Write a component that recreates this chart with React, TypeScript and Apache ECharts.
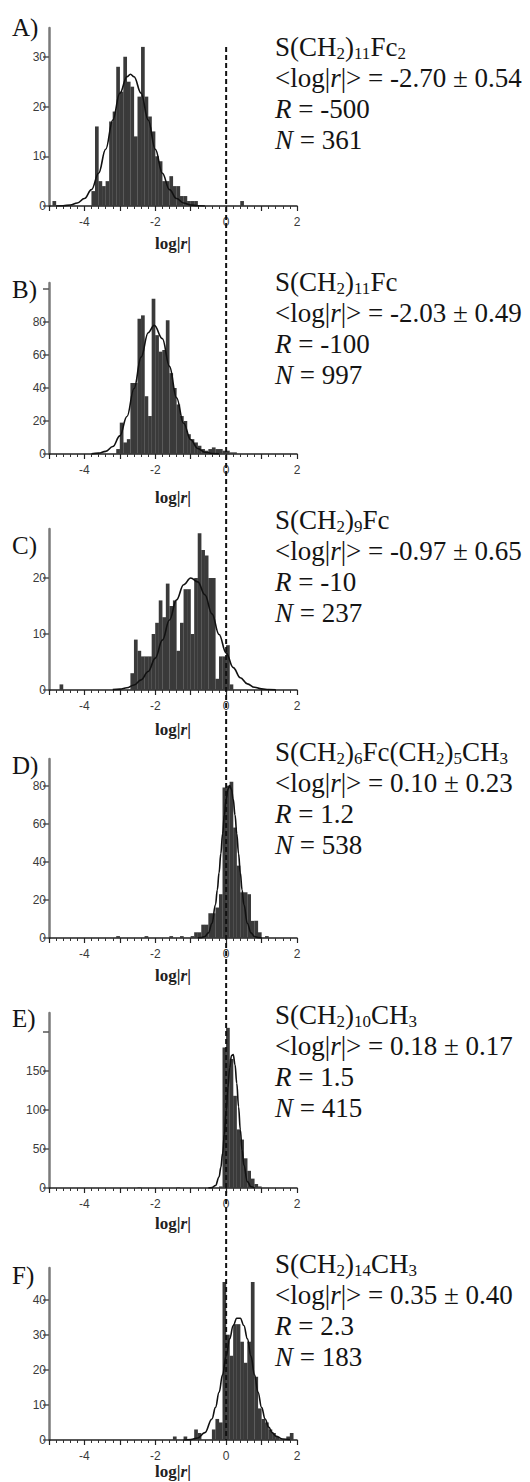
import React, { useEffect, useRef } from "react";
import * as echarts from "echarts";

// ---------------- data ----------------
const panelLetters = ["A)", "B)", "C)", "D)", "E)", "F)"];
const compounds = [
  "S(CH_2)_11Fc_2",
  "S(CH_2)_11Fc",
  "S(CH_2)_9Fc",
  "S(CH_2)_6Fc(CH_2)_5CH_3",
  "S(CH_2)_10CH_3",
  "S(CH_2)_14CH_3",
];
const meanLogR = ["-2.70", "-2.03", "-0.97", "0.10", "0.18", "0.35"];
const sdLogR = ["0.54", "0.49", "0.65", "0.23", "0.17", "0.40"];
const rValues = ["-500", "-100", "-10", "1.2", "1.5", "2.3"];
const nValues = ["361", "997", "237", "538", "415", "183"];

const xTickLabels = [-4, -2, 0, 2];

const yLabelsA = [0, 10, 20, 30];
const yLabelsB = [0, 20, 40, 60, 80];
const yLabelsC = [0, 10, 20];
const yLabelsD = [0, 20, 40, 60, 80];
const yLabelsE = [0, 50, 100, 150];
const yLabelsF = [0, 10, 20, 30, 40];

const yTicksA = [0, 10, 20, 30];
const yTicksB = [0, 20, 40, 60, 80, 100];
const yTicksC = [0, 10, 20];
const yTicksD = [0, 20, 40, 60, 80];
const yTicksE = [0, 50, 100, 150, 200];
const yTicksF = [0, 10, 20, 30, 40];

// histogram bins: [bin centre (log|r|), count]
const binsA = [
  [-4.85, 1], [-3.75, 3], [-3.65, 16], [-3.55, 5], [-3.45, 4], [-3.35, 5], [-3.25, 17],
  [-3.15, 19], [-3.05, 28], [-2.95, 23], [-2.85, 30], [-2.75, 25], [-2.65, 24], [-2.55, 14],
  [-2.45, 22], [-2.35, 32], [-2.25, 22], [-2.15, 18], [-2.05, 15], [-1.95, 10], [-1.85, 9],
  [-1.75, 5], [-1.65, 5], [-1.55, 6], [-1.45, 4], [-1.35, 4], [-1.25, 2], [-1.15, 2],
  [-1.05, 1], [-0.95, 1], [-0.85, 1], [0.45, 1],
];
const binsB = [
  [-3.05, 3], [-2.95, 19], [-2.85, 7], [-2.75, 9], [-2.65, 43], [-2.55, 43], [-2.45, 82],
  [-2.35, 84], [-2.25, 35], [-2.15, 23], [-2.05, 94], [-1.95, 72], [-1.85, 62], [-1.75, 63],
  [-1.65, 81], [-1.55, 49], [-1.45, 40], [-1.35, 30], [-1.25, 23], [-1.15, 20], [-1.05, 12],
  [-0.95, 9], [-0.85, 7], [-0.75, 5], [-0.65, 3], [-0.55, 2], [-0.45, 3], [-0.35, 4],
  [-0.25, 3], [-0.15, 3], [-0.05, 2], [0.05, 2], [0.15, 1], [0.25, 1],
];
const binsC = [
  [-4.65, 1], [-2.65, 3], [-2.55, 9], [-2.45, 7], [-2.35, 6], [-2.25, 6], [-2.15, 6],
  [-2.05, 10], [-1.95, 12], [-1.85, 16], [-1.75, 13], [-1.65, 19], [-1.55, 15], [-1.45, 16],
  [-1.35, 7], [-1.25, 12], [-1.15, 18], [-1.05, 18], [-0.95, 10], [-0.85, 20], [-0.75, 28],
  [-0.65, 25], [-0.55, 24], [-0.45, 20], [-0.35, 20], [-0.25, 2], [-0.15, 6], [-0.05, 6],
  [0.05, 8], [0.15, 1],
];
const binsD = [
  [-3.05, 1], [-2.25, 1], [-1.55, 1], [-1.25, 1], [-0.95, 1], [-0.85, 3], [-0.75, 3],
  [-0.65, 7], [-0.55, 7], [-0.45, 13], [-0.35, 13], [-0.25, 16], [-0.15, 23], [-0.05, 79],
  [0.05, 80], [0.15, 82], [0.25, 58], [0.35, 38], [0.45, 24], [0.55, 24], [0.65, 23],
  [0.75, 9], [0.85, 9], [0.95, 3], [1.15, 1],
];
const binsE = [
  [-2.45, 1], [-1.35, 1], [-0.15, 2], [-0.05, 180], [0.05, 205], [0.15, 165], [0.25, 118],
  [0.35, 75], [0.45, 62], [0.55, 38], [0.65, 22], [0.75, 12], [0.85, 5], [0.95, 2],
];
const binsF = [
  [-1.45, 1], [-1.15, 1], [-0.85, 3], [-0.75, 2], [-0.35, 3], [-0.25, 6], [-0.15, 5],
  [-0.05, 45], [0.05, 30], [0.15, 24], [0.25, 33], [0.35, 33], [0.45, 28], [0.55, 22],
  [0.65, 28], [0.75, 45], [0.85, 18], [0.95, 9], [1.05, 6], [1.15, 5], [1.25, 3],
  [1.35, 2], [1.45, 1], [1.75, 1], [1.85, 2],
];

// fitted curves: [log|r|, count]
const curveA = [
  [-4.8, 0], [-4.6, 0.05], [-4.4, 0.2], [-4.2, 0.6], [-4.0, 1.5], [-3.8, 3.3], [-3.6, 6.6],
  [-3.4, 11.4], [-3.2, 17.3], [-3.0, 22.7], [-2.8, 26.0], [-2.7, 26.5], [-2.6, 26.0],
  [-2.4, 22.7], [-2.2, 17.3], [-2.0, 11.4], [-1.8, 6.6], [-1.6, 3.3], [-1.4, 1.5],
  [-1.2, 0.6], [-1.0, 0.2], [-0.8, 0.05], [-0.6, 0],
];
const curveB = [
  [-3.8, 0.1], [-3.6, 0.5], [-3.4, 1.6], [-3.2, 4.5], [-3.0, 11.0], [-2.8, 22.7],
  [-2.6, 39.7], [-2.4, 58.7], [-2.2, 73.5], [-2.03, 78], [-1.8, 69.9], [-1.6, 53.1],
  [-1.4, 34.1], [-1.2, 18.6], [-1.0, 8.6], [-0.8, 3.3], [-0.6, 1.1], [-0.4, 0.3], [-0.2, 0.1],
];
const curveC = [
  [-3.2, 0.06], [-3.0, 0.15], [-2.8, 0.4], [-2.6, 0.9], [-2.4, 1.8], [-2.2, 3.3], [-2.0, 5.7],
  [-1.8, 8.9], [-1.6, 12.5], [-1.4, 16.1], [-1.2, 18.8], [-1.0, 20.0], [-0.8, 19.3],
  [-0.6, 17.0], [-0.4, 13.6], [-0.2, 9.9], [0.0, 6.6], [0.2, 4.0], [0.4, 2.2], [0.6, 1.1],
  [0.8, 0.5], [1.0, 0.2], [1.2, 0.08], [1.4, 0.03],
];
const curveD = [
  [-0.8, 0.05], [-0.7, 0.2], [-0.6, 0.8], [-0.5, 2.7], [-0.4, 7.6], [-0.3, 17.6],
  [-0.25, 25.2], [-0.2, 34.2], [-0.15, 44.3], [-0.1, 54.8], [-0.05, 64.7], [0.0, 72.8],
  [0.05, 78.1], [0.1, 80], [0.15, 78.1], [0.2, 72.8], [0.25, 64.7], [0.3, 54.8], [0.35, 44.3],
  [0.4, 34.2], [0.45, 25.2], [0.5, 17.6], [0.6, 7.6], [0.7, 2.7], [0.8, 0.8], [0.9, 0.2],
  [1.0, 0.05],
];
const curveE = [
  [-0.5, 0], [-0.4, 0.5], [-0.3, 3.2], [-0.2, 14.1], [-0.15, 26.2], [-0.1, 44.3],
  [-0.05, 69], [0.0, 98.2], [0.05, 128.5], [0.1, 154], [0.15, 169.4], [0.2, 170.8],
  [0.25, 158], [0.3, 134], [0.35, 104], [0.4, 74.5], [0.45, 48.7], [0.5, 29.3], [0.6, 8.2],
  [0.7, 1.6], [0.8, 0.2],
];
const curveF = [
  [-1.2, 0.02], [-1.0, 0.12], [-0.8, 0.56], [-0.6, 2.1], [-0.4, 6.0], [-0.3, 9.3],
  [-0.2, 13.6], [-0.1, 18.6], [0.0, 23.9], [0.1, 28.8], [0.2, 32.6], [0.3, 34.7], [0.4, 34.7],
  [0.5, 32.6], [0.6, 28.8], [0.7, 23.9], [0.8, 18.6], [0.9, 13.6], [1.0, 9.3], [1.1, 6.0],
  [1.2, 3.7], [1.3, 2.1], [1.4, 1.1], [1.6, 0.27], [1.8, 0.05],
];

const allBins = [binsA, binsB, binsC, binsD, binsE, binsF];
const allCurves = [curveA, curveB, curveC, curveD, curveE, curveF];
const allYLabels = [yLabelsA, yLabelsB, yLabelsC, yLabelsD, yLabelsE, yLabelsF];
const allYTicks = [yTicksA, yTicksB, yTicksC, yTicksD, yTicksE, yTicksF];
const yIntervals = [10, 20, 10, 20, 50, 10];
const yMaxes = [35.8, 103.6, 28.75, 94, 224, 49];

// ---------------- layout (pixels) ----------------
const layout = [
  { top: 28, zero: 206, nameGap: 29, letterY: 27, textY: 47 },
  { top: 283, zero: 454, nameGap: 35, letterY: 289, textY: 282 },
  { top: 529, zero: 690, nameGap: 31, letterY: 545, textY: 520 },
  { top: 759, zero: 938, nameGap: 29, letterY: 765, textY: 752 },
  { top: 1013, zero: 1188, nameGap: 27, letterY: 1018, textY: 1015 },
  { top: 1268, zero: 1440, nameGap: 20, letterY: 1275, textY: 1264 },
];
const LINE_STEP = 31;
const TEXT_X = 275;
const SERIF = "'Liberation Serif', 'DejaVu Serif', serif";
const SANS = "'Liberation Sans', Arial, sans-serif";
const INK = "#141414";

function compoundRich(s: string): string {
  const parts = s.split(/_(\d+)/);
  return parts
    .map((t, i) => (t === "" ? "" : i % 2 ? `{s|${t}}` : `{n|${t}}`))
    .join("");
}

const textRich = {
  n: { fontSize: 27, fontFamily: SERIF, fill: INK, lineHeight: 30 },
  i: { fontSize: 27, fontFamily: SERIF, fontStyle: "italic", fill: INK, lineHeight: 30 },
  s: { fontSize: 17, fontFamily: SERIF, fill: INK, lineHeight: 17, verticalAlign: "bottom" },
};

function buildOption() {
  const grid: any[] = [];
  const xAxis: any[] = [];
  const yAxis: any[] = [];
  const series: any[] = [];
  const graphic: any[] = [];

  layout.forEach((p, k) => {
    grid.push({ left: 49, width: 248, top: p.top, height: p.zero - p.top });
    xAxis.push({
      type: "value",
      gridIndex: k,
      min: -5,
      max: 2,
      interval: 1,
      name: "{b|log|}{bi|r}{b||}",
      nameLocation: "middle",
      nameGap: p.nameGap,
      nameTextStyle: {
        rich: {
          b: { fontFamily: SERIF, fontWeight: "bold", fontSize: 17, color: "#222" },
          bi: { fontFamily: SERIF, fontWeight: "bold", fontStyle: "italic", fontSize: 17, color: "#222" },
        },
      },
      axisLine: { show: true, onZero: false, lineStyle: { color: "#222", width: 1.5 } },
      axisTick: { show: true, length: 5, lineStyle: { color: "#222", width: 1.2 } },
      minorTick: { show: true, splitNumber: 5, length: 3, lineStyle: { color: "#333", width: 1 } },
      splitLine: { show: false },
      minorSplitLine: { show: false },
      axisLabel: {
        fontFamily: SANS,
        fontSize: 12,
        color: "#3a3a3a",
        margin: 10,
        formatter: (v: number) => (xTickLabels.includes(v) ? String(v) : ""),
      },
    });
    yAxis.push({
      type: "value",
      gridIndex: k,
      min: 0,
      max: yMaxes[k],
      interval: yIntervals[k],
      axisLine: { show: true, onZero: false, lineStyle: { color: "#7a7a7a", width: 2.5 } },
      axisTick: {
        show: true,
        length: 6,
        lineStyle: { color: "#555", width: 1.5 },
        customValues: allYTicks[k],
      },
      axisLabel: {
        fontFamily: SANS,
        fontSize: 12,
        color: "#3a3a3a",
        margin: 3,
        customValues: allYLabels[k],
        formatter: (v: number) => (allYLabels[k].includes(v) ? String(v) : ""),
      },
      splitLine: { show: false },
    });
    series.push({
      type: "bar",
      xAxisIndex: k,
      yAxisIndex: k,
      data: allBins[k],
      barWidth: 3.7,
      itemStyle: { color: "#3a3a3a" },
      silent: true,
      z: 2,
    });
    series.push({
      type: "line",
      xAxisIndex: k,
      yAxisIndex: k,
      data: allCurves[k],
      smooth: 0.4,
      smoothMonotone: "x",
      showSymbol: false,
      lineStyle: { color: "#111", width: 1.6 },
      silent: true,
      z: 3,
    });

    graphic.push({
      type: "text",
      id: "letter" + k,
      x: 12,
      y: p.letterY,
      silent: true,
      style: {
        text: panelLetters[k],
        fontFamily: SERIF,
        fontSize: 25,
        fill: INK,
        align: "left",
        verticalAlign: "middle",
      },
    });
    const lines = [
      compoundRich(compounds[k]),
      `{n|<log|}{i|r}{n||> = ${meanLogR[k]} ± ${sdLogR[k]}}`,
      `{i|R}{n| = ${rValues[k]}}`,
      `{i|N}{n| = ${nValues[k]}}`,
    ];
    lines.forEach((t, j) => {
      graphic.push({
        type: "text",
        id: `info${k}_${j}`,
        x: TEXT_X,
        y: p.textY + j * LINE_STEP,
        silent: true,
        style: {
          text: t,
          rich: textRich,
          fontFamily: SERIF,
          fontSize: 27,
          fill: INK,
          align: "left",
          verticalAlign: "middle",
        },
      });
    });
  });

  return {
    animation: false,
    backgroundColor: "#ffffff",
    grid,
    xAxis,
    yAxis,
    series,
    graphic,
  };
}

export default function App() {
  const ref = useRef<HTMLDivElement>(null);
  useEffect(() => {
    if (!ref.current) return;
    const chart = echarts.init(ref.current, undefined, { renderer: "svg" });
    chart.setOption(buildOption());
    const x0 = chart.convertToPixel({ xAxisIndex: 0 }, 0) as number;
    const yTop = chart.convertToPixel({ yAxisIndex: 0 }, 32) as number;
    const yBot = chart.convertToPixel({ yAxisIndex: 5 }, 0) as number;
    chart.setOption({
      graphic: [
        {
          type: "line",
          id: "zeroLine",
          silent: true,
          z: 100,
          shape: { x1: x0, y1: yTop, x2: x0, y2: yBot },
          style: { stroke: "#111", lineWidth: 2, lineDash: [5, 3] },
        },
      ],
    });
    return () => chart.dispose();
  }, []);
  return (
    <div
      ref={ref}
      style={{ position: "absolute", left: 0, top: 0, width: 530, height: 1482, background: "#fff" }}
    />
  );
}
